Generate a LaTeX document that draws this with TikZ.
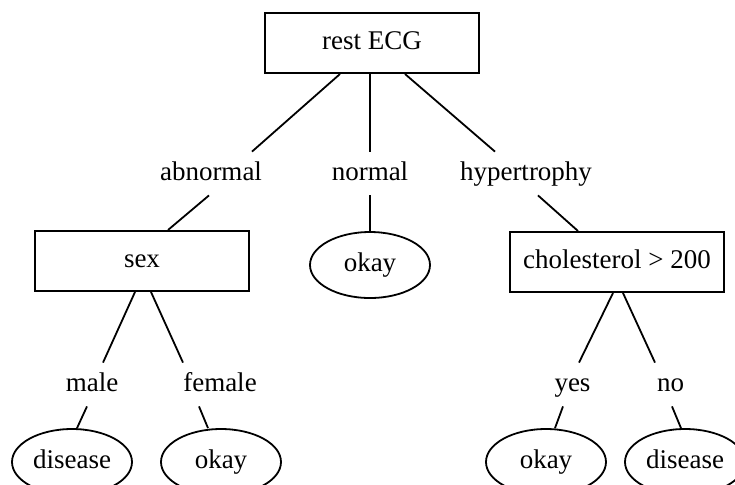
\documentclass[tikz,border=0pt]{standalone}
\usepackage{fontspec}
\setmainfont{Liberation Serif}
\usetikzlibrary{shapes.geometric,calc}

\begin{document}
\begin{tikzpicture}[x=0.5pt, y=-0.5pt,
		every node/.style={font=\fontsize{13.5}{16}\selectfont, text height=9.5pt, text depth=3pt},
		test/.style={draw, line width=1pt, minimum width=107pt, minimum height=30pt},
		leaf/.style={draw, ellipse, line width=0.9pt, minimum width=60pt, minimum height=33pt, inner sep=0pt},
		branch/.style={anchor=base, inner sep=4.5pt},
		edge/.style={line width=0.9pt}]
				\clip (0, 0) rectangle (735, 484);
				\node[test] (rest) at (372, 43) { rest ECG };
				\node[branch] (abnormal) at (211, 180) { abnormal };
				\node[branch] (normal) at (370, 180) { normal };
				\node[branch] (hyper) at (526, 180) { hypertrophy };
				\node[test] (sex) at (142, 261) { sex };
				\node[leaf] (okaymid) at (370, 265) { okay };
				\node[test] (chol) at (617, 262) { cholesterol > 200 };
				\node[branch] (male) at (92, 391) { male };
				\node[branch] (female) at (220, 391) { female };
				\node[branch] (yes) at (572.5, 391) { yes };
				\node[branch] (no) at (670.5, 391) { no };
				\node[leaf] (disleft) at (72, 462) { disease };
				\node[leaf] (okayleft) at (221, 462) { okay };
				\node[leaf] (okayright) at (546, 462) { okay };
				\node[leaf] (disright) at (685, 462) { disease };
				\draw[edge] ($(rest.south)+(-32,0)$) -- ($(abnormal.north)+(41,0)$);
				\draw[edge] (rest.south -| normal.north) -- (normal.north);
				\draw[edge] ($(rest.south)+(33,0)$) -- ($(hyper.north)+(-31,0)$);
				\draw[edge] ($(abnormal.south)+(-2,0)$) -- ($(sex.north)+(26,0)$);
				\draw[edge] (normal.south) -- (okaymid.north);
				\draw[edge] ($(hyper.south)+(12,0)$) -- ($(chol.north)+(-39,0)$);
				\draw[edge] ($(sex.south)+(-7,0)$) -- ($(male.north)+(11,0)$);
				\draw[edge] ($(sex.south)+(9,0)$) -- ($(female.north)+(-37,0)$);
				\draw[edge] ($(male.south)+(-5,0)$) -- ($(disleft.north)+(5,0)$);
				\draw[edge] ($(female.south)+(-21,0)$) -- ($(okayleft.north)+(-13,0)$);
				\draw[edge] ($(chol.south)+(-4,0)$) -- ($(yes.north)+(6.5,0)$);
				\draw[edge] ($(chol.south)+(6,0)$) -- ($(no.north)+(-15.5,0)$);
				\draw[edge] ($(yes.south)+(-9.5,0)$) -- ($(okayright.north)+(9,0)$);
				\draw[edge] ($(no.south)+(1.5,0)$) -- ($(disright.north)+(-4,0)$);
\end{tikzpicture}
\end{document}
